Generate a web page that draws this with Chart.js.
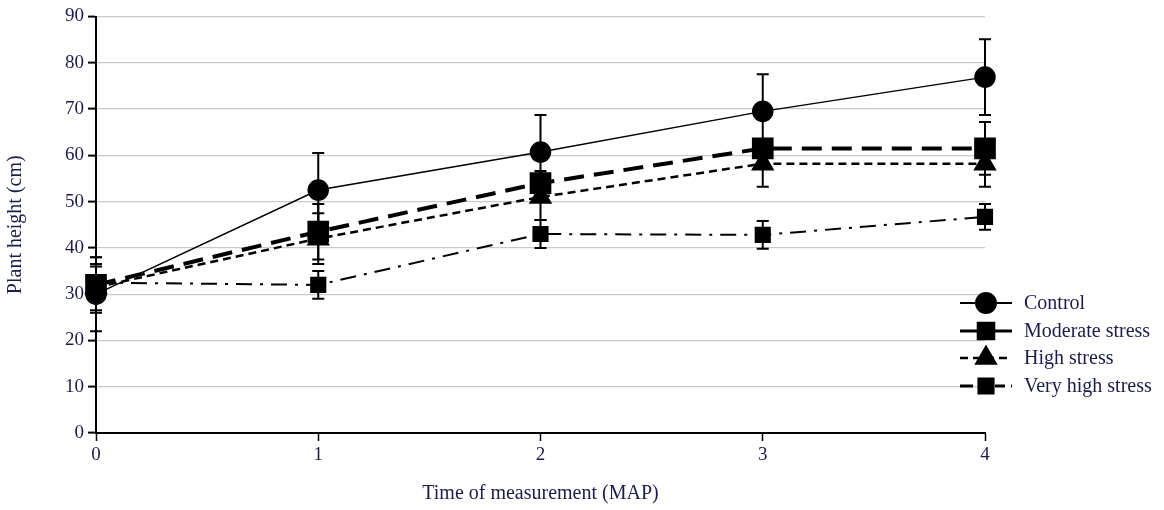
<!DOCTYPE html>
<html>
<head>
<meta charset="utf-8">
<script src="https://cdn.jsdelivr.net/npm/chart.js@4"></script>
<style>
  html, body { margin: 0; padding: 0; background: #fff; }
  #wrap { width: 1164px; height: 510px; position: relative; }
</style>
</head>
<body>
<div id="wrap"><canvas id="chart"></canvas></div>
<script>
/* ---------- Data ---------- */
const months = [0, 1, 2, 3, 4];
const seriesNames = ['Control', 'Moderate stress', 'High stress', 'Very high stress'];

const controlVals = [30.0, 52.5, 60.7, 69.5, 76.9];
const controlErr = [8.0, 8.0, 8.0, 8.0, 8.2];

const moderateVals = [32.0, 43.5, 54.0, 61.5, 61.5];
const moderateErr = [6.0, 6.0, 2.6, 2.0, 5.7];

const highVals = [31.5, 42.0, 51.0, 58.2, 58.2];
const highErr = [5.0, 5.5, 5.0, 5.0, 5.0];

const veryHighVals = [32.5, 32.0, 43.0, 42.8, 46.7];
const veryHighErr = [3.5, 3.0, 3.0, 3.0, 2.8];

const yTicks = [0, 10, 20, 30, 40, 50, 60, 70, 80, 90];

const FONT = '"Liberation Serif", "DejaVu Serif", serif';
const TXT = '#1c1c48';

function pts(vals) {
  return vals.map((v, i) => ({ x: months[i], y: v }));
}

/* ---------- Error bars ---------- */
const errorBars = {
  id: 'errorBars',
  beforeDatasetsDraw(chart) {
    const { ctx, scales: { x, y } } = chart;
    ctx.save();
    ctx.strokeStyle = '#000';
    ctx.lineWidth = 2;
    chart.data.datasets.forEach(ds => {
      ds.data.forEach((p, i) => {
        const e = ds.err[i];
        const px = x.getPixelForValue(p.x);
        const top = y.getPixelForValue(p.y + e);
        const bot = y.getPixelForValue(p.y - e);
        ctx.beginPath();
        ctx.moveTo(px, top); ctx.lineTo(px, bot);
        ctx.moveTo(px - 6, top); ctx.lineTo(px + 6, top);
        ctx.moveTo(px - 6, bot); ctx.lineTo(px + 6, bot);
        ctx.stroke();
      });
    });
    ctx.restore();
  }
};

/* ---------- Legend (drawn by hand, right side) ---------- */
const sideLegend = {
  id: 'sideLegend',
  afterDraw(chart) {
    const { ctx } = chart;
    const x0 = 960, x1 = 1012, tx = 1024;
    const rows = [303, 331, 358, 386];
    ctx.save();
    chart.data.datasets.forEach((ds, i) => {
      const yy = rows[i];
      ctx.strokeStyle = '#000';
      ctx.lineWidth = ds.legendWidth;
      ctx.setLineDash(ds.legendDash);
      ctx.beginPath();
      ctx.moveTo(x0, yy); ctx.lineTo(x1, yy);
      ctx.stroke();
      ctx.setLineDash([]);
      ctx.fillStyle = '#000';
      Chart.helpers.drawPoint(ctx, {
        pointStyle: ds.pointStyle, radius: ds.legendRadius, rotation: 0, borderWidth: 1
      }, (x0 + x1) / 2, yy);
      ctx.fillStyle = TXT;
      ctx.font = '20px ' + FONT;
      ctx.textBaseline = 'middle';
      ctx.fillText(ds.label, tx, yy + 1);
    });
    ctx.restore();
  }
};

/* ---------- Chart ---------- */
const common = {
  showLine: true,
  clip: false,
  backgroundColor: '#000',
  borderColor: '#000',
  pointBorderColor: '#000',
  pointBackgroundColor: '#000',
  tension: 0,
};

new Chart(document.getElementById('chart'), {
  type: 'scatter',
  data: {
    datasets: [
      { ...common, label: seriesNames[0], data: pts(controlVals), err: controlErr,
        borderWidth: 1.5, borderDash: [], pointStyle: 'circle', pointRadius: 10,
        legendWidth: 2, legendDash: [], legendRadius: 10 },
      { ...common, label: seriesNames[1], data: pts(moderateVals), err: moderateErr,
        borderWidth: 4, borderDash: [20, 10], pointStyle: 'rect', pointRadius: 12.5,
        legendWidth: 3, legendDash: [], legendRadius: 11 },
      { ...common, label: seriesNames[2], data: pts(highVals), err: highErr,
        borderWidth: 2.5, borderDash: [8, 5], pointStyle: 'triangle', pointRadius: 11,
        legendWidth: 2.5, legendDash: [8, 5], legendRadius: 11 },
      { ...common, label: seriesNames[3], data: pts(veryHighVals), err: veryHighErr,
        borderWidth: 2, borderDash: [16, 8, 3, 8], pointStyle: 'rect', pointRadius: 10,
        legendWidth: 3, legendDash: [13, 22, 10, 6, 2, 100], legendRadius: 10 },
    ],
  },
  options: {
    responsive: true,
    maintainAspectRatio: false,
    animation: false,
    layout: { padding: { top: 15, right: 179, left: 0, bottom: 0 } },
    plugins: { legend: { display: false }, tooltip: { enabled: false } },
    scales: {
      x: {
        type: 'linear', min: 0, max: 4,
        afterFit(s) { s.height = 77; },
        border: { display: true, color: '#000', width: 2 },
        grid: { drawOnChartArea: false, drawTicks: true, tickLength: 8, tickColor: '#000', tickWidth: 1.5 },
        ticks: { stepSize: 1, color: TXT, font: { family: FONT, size: 19 }, padding: 3 },
        title: { display: true, text: 'Time of measurement (MAP)', color: TXT,
          font: { family: FONT, size: 20 }, padding: { top: 10 } },
      },
      y: {
        min: 0, max: 90,
        afterFit(s) { s.width = 96; },
        afterBuildTicks(s) { s.ticks = yTicks.map(v => ({ value: v })); },
        border: { display: true, color: '#000', width: 2 },
        grid: { color: '#c9c9c9', lineWidth: 1.2, drawTicks: true, tickLength: 8, tickColor: '#000', tickWidth: 2 },
        ticks: { color: TXT, font: { family: FONT, size: 19 }, padding: 4 },
        title: { display: true, text: 'Plant height (cm)', color: TXT,
          font: { family: FONT, size: 20 }, padding: { bottom: 2 } },
      },
    },
  },
  plugins: [errorBars, sideLegend],
});
</script>
</body>
</html>
